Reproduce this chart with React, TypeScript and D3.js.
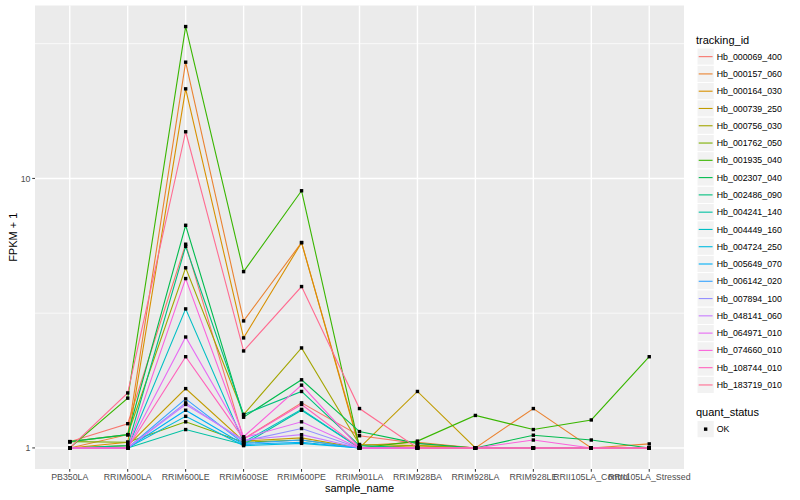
import { useEffect, useRef } from "react";
import * as d3 from "d3";

const samples = [
  "PB350LA",
  "RRIM600LA",
  "RRIM600LE",
  "RRIM600SE",
  "RRIM600PE",
  "RRIM901LA",
  "RRIM928BA",
  "RRIM928LA",
  "RRIM928LE",
  "RRII105LA_Control",
  "RRII105LA_Stressed",
];

const trackingIds = [
  "Hb_000069_400",
  "Hb_000157_060",
  "Hb_000164_030",
  "Hb_000739_250",
  "Hb_000756_030",
  "Hb_001762_050",
  "Hb_001935_040",
  "Hb_002307_040",
  "Hb_002486_090",
  "Hb_004241_140",
  "Hb_004449_160",
  "Hb_004724_250",
  "Hb_005649_070",
  "Hb_006142_020",
  "Hb_007894_100",
  "Hb_048141_060",
  "Hb_064971_010",
  "Hb_074660_010",
  "Hb_108744_010",
  "Hb_183719_010",
];

const colors = [
  "#F8766D", "#EA8331", "#D89000", "#C09B00", "#A3A500",
  "#7CAE00", "#39B600", "#00BB4E", "#00BF7D", "#00C1A3",
  "#00BFC4", "#00BAE0", "#00B0F6", "#35A2FF", "#9590FF",
  "#C77CFF", "#E76BF3", "#FA62DB", "#FF62BC", "#FF6C91",
];

// FPKM + 1 per tracking id, in sample order
const fpkm: number[][] = [
  [1.055, 1.23, 5.7, 1.08, 1.47, 1.11, 1.04, 1.0, 1.0, 1.0, 1.0],
  [1.0, 1.12, 27.0, 2.96, 5.78, 1.02, 1.05, 1.0, 1.4, 1.0, 1.035],
  [1.0, 1.05, 21.5, 2.56, 5.78, 1.0, 1.02, 1.0, 1.0, 1.0, 1.0],
  [1.0, 1.02, 1.66, 1.06, 1.09, 1.0, 1.62, 1.0, 1.0, 1.0, 1.0],
  [1.055, 1.12, 4.66, 1.33, 2.35, 1.03, 1.02, 1.0, 1.0, 1.0, 1.0],
  [1.055, 1.05, 1.25, 1.05, 1.07, 1.0, 1.0, 1.0, 1.0, 1.0, 1.0],
  [1.0, 1.53, 36.6, 4.51, 9.0, 1.0, 1.06, 1.32, 1.17, 1.27, 2.18],
  [1.055, 1.12, 6.7, 1.3, 1.79, 1.15, 1.04, 1.0, 1.115, 1.07, 1.0],
  [1.0, 1.02, 5.6, 1.33, 1.62, 1.02, 1.0, 1.0, 1.0, 1.0, 1.0],
  [1.0, 1.0, 1.17, 1.03, 1.38, 1.0, 1.0, 1.0, 1.0, 1.0, 1.0],
  [1.0, 1.0, 3.28, 1.05, 1.39, 1.0, 1.0, 1.0, 1.0, 1.0, 1.0],
  [1.0, 1.0, 1.31, 1.02, 1.04, 1.0, 1.0, 1.0, 1.0, 1.0, 1.0],
  [1.0, 1.0, 1.38, 1.03, 1.05, 1.0, 1.0, 1.0, 1.0, 1.0, 1.0],
  [1.0, 1.0, 1.52, 1.04, 1.07, 1.0, 1.0, 1.0, 1.0, 1.0, 1.0],
  [1.0, 1.0, 1.47, 1.06, 1.18, 1.0, 1.0, 1.0, 1.0, 1.0, 1.0],
  [1.0, 1.0, 1.45, 1.07, 1.12, 1.0, 1.0, 1.0, 1.0, 1.0, 1.0],
  [1.0, 1.0, 2.58, 1.09, 1.25, 1.0, 1.0, 1.0, 1.0, 1.0, 1.0],
  [1.0, 1.0, 4.25, 1.1, 1.71, 1.0, 1.0, 1.0, 1.07, 1.0, 1.0],
  [1.0, 1.0, 2.18, 1.08, 1.45, 1.0, 1.0, 1.0, 1.0, 1.0, 1.0],
  [1.0, 1.6, 14.9, 2.29, 3.97, 1.4, 1.0, 1.0, 1.0, 1.0, 1.0],
];

const yTicks = [1, 10];
const yMinor = [Math.pow(10, 0.5), Math.pow(10, 1.5)];

export default function App() {
  const ref = useRef<SVGSVGElement | null>(null);

  useEffect(() => {
    if (!ref.current) return;
    document.body.style.margin = "0";

    const font = "'Liberation Sans', Arial, Helvetica, sans-serif";
    const panel = { left: 35, right: 684, top: 5.5, bottom: 469 };

    const svg = d3.select(ref.current);
    svg.selectAll("*").remove();

    const x = d3
      .scalePoint<string>()
      .domain(samples)
      .range([panel.left, panel.right])
      .padding(0.6);

    const all = fpkm.flat();
    const [lo, hi] = d3.extent(all) as [number, number];
    const lLo = Math.log10(lo);
    const lHi = Math.log10(hi);
    const pad = (lHi - lLo) * 0.05;
    const y = d3
      .scaleLog()
      .domain([Math.pow(10, lLo - pad), Math.pow(10, lHi + pad)])
      .range([panel.bottom, panel.top]);

    svg
      .append("rect")
      .attr("x", panel.left)
      .attr("y", panel.top)
      .attr("width", panel.right - panel.left)
      .attr("height", panel.bottom - panel.top)
      .attr("fill", "#EBEBEB");

    const grid = svg.append("g");
    yMinor.forEach((v) => {
      grid
        .append("line")
        .attr("x1", panel.left)
        .attr("x2", panel.right)
        .attr("y1", y(v))
        .attr("y2", y(v))
        .attr("stroke", "#fff")
        .attr("stroke-width", 0.7);
    });
    yTicks.forEach((v) => {
      grid
        .append("line")
        .attr("x1", panel.left)
        .attr("x2", panel.right)
        .attr("y1", y(v))
        .attr("y2", y(v))
        .attr("stroke", "#fff")
        .attr("stroke-width", 1.4);
    });
    samples.forEach((s) => {
      grid
        .append("line")
        .attr("x1", x(s)!)
        .attr("x2", x(s)!)
        .attr("y1", panel.top)
        .attr("y2", panel.bottom)
        .attr("stroke", "#fff")
        .attr("stroke-width", 1.4);
    });

    const line = d3
      .line<number>()
      .x((_, i) => x(samples[i])!)
      .y((d) => y(d));

    const lines = svg.append("g");
    fpkm.forEach((vals, i) => {
      lines
        .append("path")
        .datum(vals)
        .attr("fill", "none")
        .attr("stroke", colors[i])
        .attr("stroke-width", 1.1)
        .attr("d", line);
    });

    const pts = svg.append("g");
    fpkm.forEach((vals) => {
      vals.forEach((v, j) => {
        pts
          .append("rect")
          .attr("x", x(samples[j])! - 1.7)
          .attr("y", y(v) - 1.7)
          .attr("width", 3.4)
          .attr("height", 3.4)
          .attr("fill", "#000");
      });
    });

    // axes
    const xAxis = svg.append("g");
    samples.forEach((s) => {
      xAxis
        .append("line")
        .attr("x1", x(s)!)
        .attr("x2", x(s)!)
        .attr("y1", panel.bottom)
        .attr("y2", panel.bottom + 2.75)
        .attr("stroke", "#333");
      xAxis
        .append("text")
        .attr("x", x(s)!)
        .attr("y", panel.bottom + 11)
        .attr("text-anchor", "middle")
        .attr("font-family", font)
        .attr("font-size", 8.8)
        .attr("fill", "#4D4D4D")
        .text(s);
    });

    const yAxis = svg.append("g");
    yTicks.forEach((v) => {
      yAxis
        .append("line")
        .attr("x1", panel.left - 2.75)
        .attr("x2", panel.left)
        .attr("y1", y(v))
        .attr("y2", y(v))
        .attr("stroke", "#333");
      yAxis
        .append("text")
        .attr("x", panel.left - 4.5)
        .attr("y", y(v))
        .attr("dy", "0.35em")
        .attr("text-anchor", "end")
        .attr("font-family", font)
        .attr("font-size", 8.8)
        .attr("fill", "#4D4D4D")
        .text(d3.format("d")(v));
    });

    svg
      .append("text")
      .attr("x", (panel.left + panel.right) / 2)
      .attr("y", 492)
      .attr("text-anchor", "middle")
      .attr("font-family", font)
      .attr("font-size", 11)
      .attr("fill", "#000")
      .text("sample_name");

    svg
      .append("text")
      .attr("transform", `translate(17,${(panel.top + panel.bottom) / 2}) rotate(-90)`)
      .attr("text-anchor", "middle")
      .attr("font-family", font)
      .attr("font-size", 11)
      .attr("fill", "#000")
      .text("FPKM + 1");

    // legend
    const lg = svg.append("g");
    const lx = 697;
    const key = 17.28;
    lg.append("text")
      .attr("x", lx - 1)
      .attr("y", 44)
      .attr("font-family", font)
      .attr("font-size", 11)
      .text("tracking_id");
    trackingIds.forEach((id, i) => {
      const ky = 48 + i * key;
      lg.append("rect")
        .attr("x", lx)
        .attr("y", ky)
        .attr("width", key)
        .attr("height", key)
        .attr("fill", "#F2F2F2")
        .attr("stroke", "#fff")
        .attr("stroke-width", 1);
      lg.append("line")
        .attr("x1", lx + 1.7)
        .attr("x2", lx + key - 1.7)
        .attr("y1", ky + key / 2)
        .attr("y2", ky + key / 2)
        .attr("stroke", colors[i])
        .attr("stroke-width", 1.1);
      lg.append("text")
        .attr("x", lx + key + 2.5)
        .attr("y", ky + key / 2)
        .attr("dy", "0.35em")
        .attr("font-family", font)
        .attr("font-size", 8.8)
        .text(id);
    });

    lg.append("text")
      .attr("x", lx - 1)
      .attr("y", 416)
      .attr("font-family", font)
      .attr("font-size", 11)
      .text("quant_status");
    lg.append("rect")
      .attr("x", lx)
      .attr("y", 420.5)
      .attr("width", key)
      .attr("height", key)
      .attr("fill", "#F2F2F2")
      .attr("stroke", "#fff");
    lg.append("rect")
      .attr("x", lx + key / 2 - 1.7)
      .attr("y", 420.5 + key / 2 - 1.7)
      .attr("width", 3.4)
      .attr("height", 3.4)
      .attr("fill", "#000");
    lg.append("text")
      .attr("x", lx + key + 2.5)
      .attr("y", 420.5 + key / 2)
      .attr("dy", "0.35em")
      .attr("font-family", font)
      .attr("font-size", 8.8)
      .text("OK");
  }, []);

  return (
    <svg
      ref={ref}
      width={800}
      height={500}
      style={{ display: "block", background: "#fff" }}
    />
  );
}
